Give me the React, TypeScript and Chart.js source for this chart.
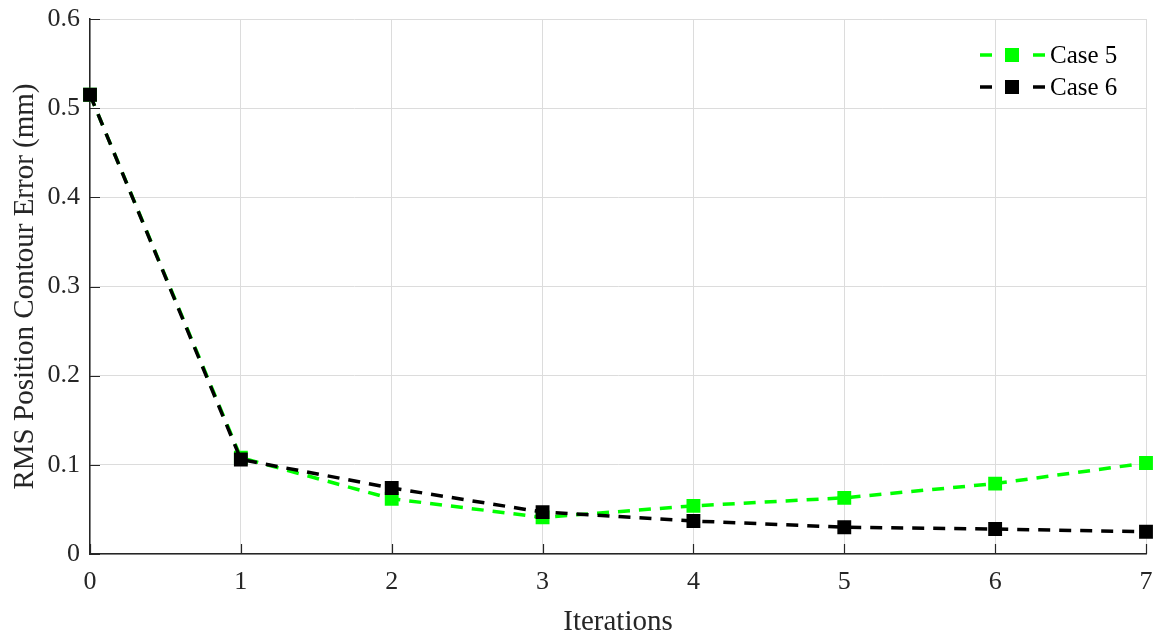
import { useEffect, useRef } from "react";
import { Chart, registerables } from "chart.js";

Chart.register(...registerables);

const iterations = [0, 1, 2, 3, 4, 5, 6, 7];
const case5 = [0.515, 0.108, 0.062, 0.041, 0.054, 0.063, 0.079, 0.102];
const case6 = [0.515, 0.106, 0.074, 0.047, 0.037, 0.03, 0.028, 0.025];
const yMin = 0;
const yMax = 0.6;
const yStep = 0.1;

const FONT = '"Liberation Serif", "Times New Roman", serif';
const AXIS = "#262626";
const GREEN = "#00ff00";
const BLACK = "#000000";

const legendItems = [
  { label: "Case 5", color: GREEN },
  { label: "Case 6", color: BLACK },
];

// MATLAB-style inner tick marks
const innerTicks = {
  id: "innerTicks",
  afterDraw(chart: any) {
    const { ctx, chartArea } = chart;
    const xs = chart.scales.x;
    const ys = chart.scales.y;
    ctx.save();
    ctx.strokeStyle = AXIS;
    ctx.lineWidth = 1.2;
    ctx.beginPath();
    xs.ticks.forEach((_: any, i: number) => {
      const px = Math.round(xs.getPixelForTick(i)) + 0.5;
      ctx.moveTo(px, chartArea.bottom);
      ctx.lineTo(px, chartArea.bottom - 10);
    });
    ys.ticks.forEach((_: any, i: number) => {
      const py = Math.round(ys.getPixelForTick(i)) + 0.5;
      ctx.moveTo(chartArea.left, py);
      ctx.lineTo(chartArea.left + 10, py);
    });
    ctx.stroke();
    ctx.restore();
  },
};

// legend with line + marker sample, no box
const lineLegend = {
  id: "lineLegend",
  afterDraw(chart: any) {
    const { ctx } = chart;
    ctx.save();
    legendItems.forEach((item, i) => {
      const y = 55 + i * 32;
      ctx.strokeStyle = item.color;
      ctx.fillStyle = item.color;
      ctx.lineWidth = 3.5;
      ctx.beginPath();
      ctx.moveTo(980, y);
      ctx.lineTo(992, y);
      ctx.moveTo(1033, y);
      ctx.lineTo(1045, y);
      ctx.stroke();
      ctx.fillRect(1005, y - 7, 14, 14);
      ctx.fillStyle = BLACK;
      ctx.font = `25px ${FONT}`;
      ctx.textBaseline = "middle";
      ctx.fillText(item.label, 1050, y + 1);
    });
    ctx.restore();
  },
};

export default function App() {
  const canvasRef = useRef<HTMLCanvasElement>(null);

  useEffect(() => {
    const canvas = canvasRef.current;
    if (!canvas) return;
    const ds = (label: string, data: number[], color: string, order: number) => ({
      label,
      data,
      borderColor: color,
      backgroundColor: color,
      borderWidth: 3.5,
      borderDash: [12, 9],
      pointStyle: "rect",
      pointRadius: 9.8,
      pointHoverRadius: 9.8,
      pointBorderWidth: 0,
      tension: 0,
      order,
    });
    const chart = new Chart(canvas, {
      type: "line",
      data: {
        labels: iterations.map(String),
        datasets: [
          ds("Case 5", case5, GREEN, 1),
          ds("Case 6", case6, BLACK, 0),
        ],
      },
      plugins: [innerTicks, lineLegend],
      options: {
        animation: false,
        responsive: true,
        maintainAspectRatio: false,
        layout: { padding: { top: 19, right: 15, left: 0, bottom: 0 } },
        plugins: { legend: { display: false }, tooltip: { enabled: false } },
        scales: {
          x: {
            offset: false,
            afterFit: (s: any) => {
              s.height = 83;
              s.paddingLeft = 0;
              s.paddingRight = 0;
            },
            grid: { color: "#dcdcdc", lineWidth: 1, drawTicks: false },
            border: { color: AXIS, width: 1.5 },
            ticks: {
              color: AXIS,
              font: { family: FONT, size: 26 },
              padding: 13,
              autoSkip: false,
              maxRotation: 0,
            },
            title: {
              display: true,
              text: "Iterations",
              color: AXIS,
              font: { family: FONT, size: 29 },
              padding: { top: 0, bottom: -3 },
            },
          },
          y: {
            min: yMin,
            max: yMax,
            afterFit: (s: any) => {
              s.width = 90;
              s.paddingTop = 0;
              s.paddingBottom = 0;
            },
            grid: { color: "#dcdcdc", lineWidth: 1, drawTicks: false },
            border: { color: AXIS, width: 1.5 },
            ticks: {
              stepSize: yStep,
              color: AXIS,
              font: { family: FONT, size: 26 },
              padding: 10,
              callback: (v: any) => (Math.abs(v) < 1e-9 ? "0" : Number(v).toFixed(1)),
            },
            title: {
              display: true,
              text: "RMS Position Contour Error (mm)",
              color: AXIS,
              font: { family: FONT, size: 29 },
              padding: { top: 8, bottom: 0 },
            },
          },
        },
      },
    } as any);
    return () => chart.destroy();
  }, []);

  return (
    <div style={{ position: "fixed", left: 0, top: 0, width: 1161, height: 637, background: "#fff" }}>
      <canvas ref={canvasRef} />
    </div>
  );
}
